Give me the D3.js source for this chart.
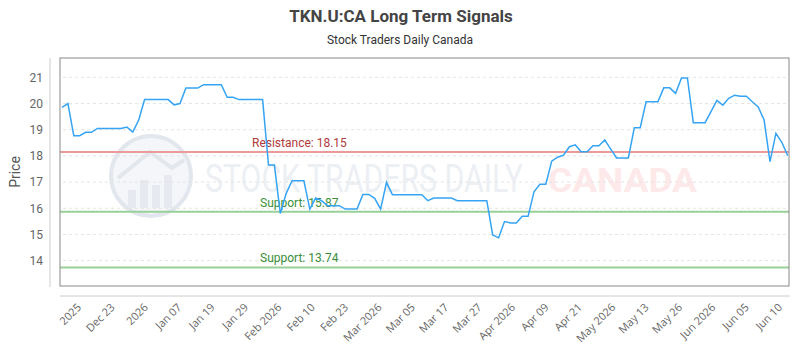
<!DOCTYPE html>
<html>
<head>
<meta charset="utf-8">
<script src="https://cdn.jsdelivr.net/npm/d3@7"></script>
<style>
body { margin: 0; background: #fff; }
</style>
</head>
<body>
<div id="chart"></div>
<script>

// closing prices, one per trading day
var prices = [
    19.85, 20.0, 18.77, 18.77, 18.9, 18.9, 19.05, 19.05, 19.05, 19.05,
    19.05, 19.1, 18.91, 19.37, 20.15, 20.15, 20.15, 20.15, 20.15, 19.95,
    20.0, 20.59, 20.59, 20.59, 20.72, 20.72, 20.72, 20.72, 20.24, 20.24,
    20.15, 20.15, 20.15, 20.15, 20.15, 17.65, 17.65, 15.8, 16.57, 17.05,
    17.05, 17.05, 15.97, 16.39, 16.29, 16.1, 16.1, 16.1, 15.97, 15.97,
    15.97, 16.53, 16.53, 16.38, 15.97, 16.99, 16.52, 16.52, 16.52, 16.52,
    16.52, 16.52, 16.29, 16.39, 16.39, 16.39, 16.39, 16.29, 16.29, 16.29,
    16.29, 16.29, 16.29, 14.98, 14.87, 15.49, 15.44, 15.44, 15.69, 15.69,
    16.63, 16.92, 16.92, 17.8, 17.95, 18.03, 18.35, 18.42, 18.16, 18.16,
    18.39, 18.39, 18.61, 18.26, 17.92, 17.92, 17.92, 19.08, 19.08, 20.07,
    20.07, 20.07, 20.6, 20.6, 20.39, 20.98, 20.98, 19.27, 19.27, 19.27,
    19.69, 20.12, 19.94, 20.2, 20.32, 20.28, 20.28, 20.07, 19.87, 19.37,
    17.78, 18.86, 18.52, 18.01
];

var tickLabels = ["2025", "Dec 23", "2026", "Jan 07", "Jan 19", "Jan 29", "Feb 2026", "Feb 10",
    "Feb 23", "Mar 2026", "Mar 05", "Mar 17", "Mar 27", "Apr 2026", "Apr 09", "Apr 21",
    "May 2026", "May 13", "May 26", "Jun 2026", "Jun 05", "Jun 10"];

var yTicks = [14, 15, 16, 17, 18, 19, 20, 21];

var levelNames = ["Resistance", "Support", "Support"];
var levelValues = [18.15, 15.87, 13.74];

var width = 800, height = 350;
var plot = {left: 60, right: 789, top: 58, bottom: 286};

var svg = d3.select("#chart")
    .append("svg")
        .attr("width", width)
        .attr("height", height)
        .style("background-color", "#fff");

var x = d3.scaleLinear()
    .domain([0, prices.length - 1])
    .range([62, 787.7]);

var y = d3.scaleLinear()
    .domain([13.03, 21.74])
    .range([plot.bottom, plot.top]);

var xTick = d3.scalePoint()
    .domain(tickLabels)
    .range([82, 783]);

// title
svg.append("text")
    .attr("x", 401).attr("y", 22)
    .attr("text-anchor", "middle")
    .style("font-family", "Roboto, sans-serif")
    .style("font-weight", "bold")
    .style("font-size", "17px")
    .style("fill", "#444")
    .text("TKN.U:CA Long Term Signals");

svg.append("text")
    .attr("x", 400).attr("y", 44)
    .attr("text-anchor", "middle")
    .style("font-family", "Roboto, sans-serif")
    .style("font-size", "12px")
    .style("fill", "#333")
    .text("Stock Traders Daily Canada");

// watermark
var wm = svg.append("g").attr("class", "watermark");
wm.append("circle")
    .attr("cx", 151).attr("cy", 176).attr("r", 40)
    .style("fill", "#f4f6f9")
    .style("stroke", "#e2e7ee")
    .style("stroke-width", 4);
[[128, 190, 8, 18], [140, 180, 8, 28], [152, 185, 8, 23], [164, 175, 8, 33]].forEach(function(b){
    wm.append("rect")
        .attr("x", b[0]).attr("y", b[1]).attr("width", b[2]).attr("height", b[3])
        .style("fill", "#e6eaf0");
});
wm.append("polyline")
    .attr("points", "118,178 150,152 172,168 184,160")
    .style("fill", "none")
    .style("stroke", "#e2e7ee")
    .style("stroke-width", 4);
wm.append("text")
    .attr("transform", "translate(205,192) scale(1,1.2)")
    .attr("textLength", 318)
    .attr("lengthAdjust", "spacingAndGlyphs")
    .style("font-family", "Roboto, sans-serif")
    .style("font-size", "33px")
    .style("fill", "#eceff4")
    .text("STOCK TRADERS DAILY");
wm.append("text")
    .attr("x", 548).attr("y", 192)
    .attr("textLength", 149)
    .attr("lengthAdjust", "spacingAndGlyphs")
    .style("font-family", "Roboto, sans-serif")
    .style("font-weight", "bold")
    .style("font-size", "33px")
    .style("fill", "#fde9e9")
    .text("CANADA");

// grid
svg.append("g")
    .selectAll("line")
    .data(yTicks)
    .enter()
    .append("line")
        .attr("x1", 63).attr("x2", 787)
        .attr("y1", function(d){ return y(d); })
        .attr("y2", function(d){ return y(d); })
        .style("stroke", "#e4e4e4")
        .style("stroke-dasharray", "3,3");

// y axis
var yAxis = svg.append("g")
    .attr("transform", "translate(50,0)")
    .call(d3.axisLeft(y).tickValues(yTicks).tickSize(0).tickSizeOuter(0).tickPadding(7));
yAxis.select(".domain").attr("d", "M0," + plot.top + "V287").style("stroke", "#ccc");
yAxis.selectAll("text")
    .style("font-family", "Roboto, sans-serif")
    .style("font-size", "12px")
    .style("fill", "#666");

svg.append("text")
    .attr("transform", "translate(20,172) rotate(-90)")
    .attr("text-anchor", "middle")
    .style("font-family", "Roboto, sans-serif")
    .style("font-size", "14px")
    .style("fill", "#555")
    .text("Price");

// x axis
svg.append("line")
    .attr("x1", 60).attr("x2", 790)
    .attr("y1", 296).attr("y2", 296)
    .style("stroke", "#ccc");

svg.append("g")
    .selectAll("text")
    .data(tickLabels)
    .enter()
    .append("text")
        .attr("transform", function(d){ return "translate(" + xTick(d) + ",308) rotate(-45)"; })
        .attr("text-anchor", "end")
        .style("font-family", "'Open Sans', sans-serif")
        .style("font-size", "11px")
        .style("fill", "#666")
        .text(function(d){ return d; });

// support / resistance
var levels = levelValues.map(function(v, i){ return {name: levelNames[i], value: v}; });

svg.selectAll(".level")
    .data(levels)
    .enter()
    .append("line")
        .attr("class", "level")
        .attr("x1", plot.left).attr("x2", plot.right)
        .attr("y1", function(d){ return y(d.value); })
        .attr("y2", function(d){ return y(d.value); })
        .style("stroke", function(d){ return d.name == "Resistance" ? "#ee9a9a" : "#99d099"; })
        .style("stroke-width", 2);

svg.selectAll(".levelLabel")
    .data(levels)
    .enter()
    .append("text")
        .attr("class", "levelLabel")
        .attr("x", function(d){ return d.name == "Resistance" ? 252 : 260; })
        .attr("y", function(d){ return y(d.value) - 5; })
        .style("font-family", "Roboto, sans-serif")
        .style("font-size", "12px")
        .style("fill", function(d){ return d.name == "Resistance" ? "#b03a3a" : "#3a8f3a"; })
        .text(function(d){ return d.name + ": " + d.value.toFixed(2); });

// price line
var line = d3.line()
    .x(function(d, i){ return x(i); })
    .y(function(d){ return y(d); });

svg.append("path")
    .datum(prices)
    .attr("d", line)
    .style("fill", "none")
    .style("stroke", "#36a4f4")
    .style("stroke-width", 1.5);

// plot frame
svg.append("rect")
    .attr("x", plot.left).attr("y", plot.top)
    .attr("width", plot.right - plot.left)
    .attr("height", plot.bottom - plot.top)
    .style("fill", "none")
    .style("stroke", "#888");

</script>
</body>
</html>
